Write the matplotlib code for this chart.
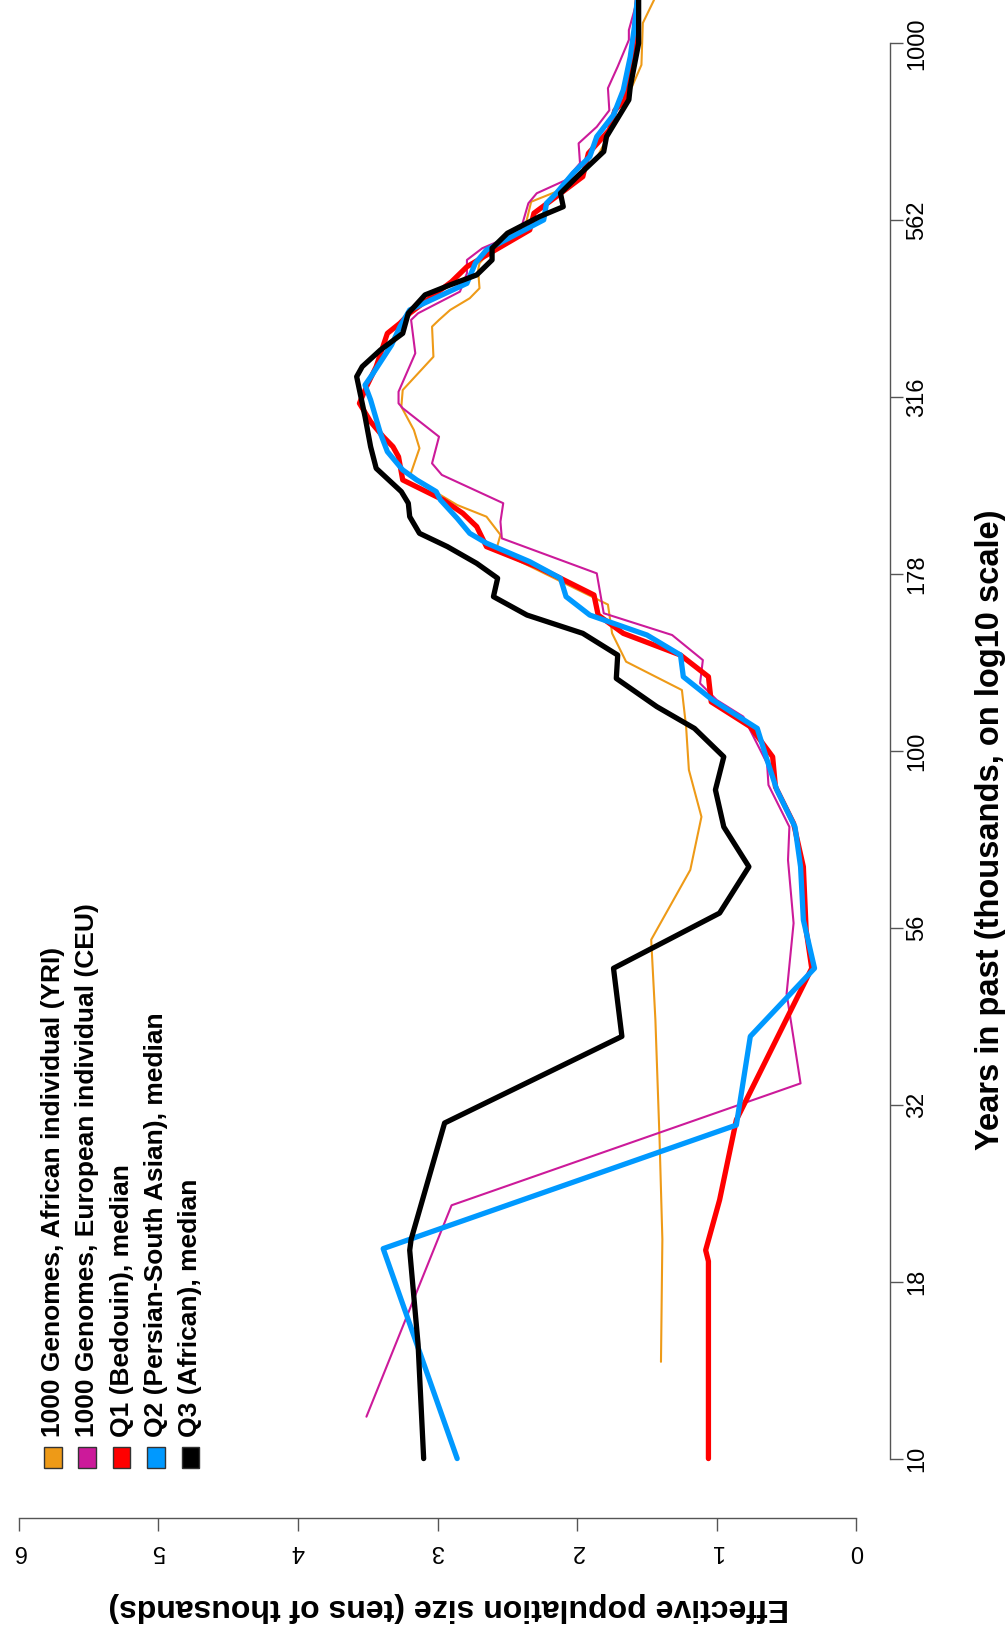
import matplotlib
matplotlib.use('Agg')
import matplotlib.pyplot as plt
from matplotlib.patches import Rectangle
from matplotlib.ticker import NullLocator

plt.rcParams['font.family'] = ['Liberation Sans', 'DejaVu Sans']

# years in past (thousands) and effective population size (tens of thousands)
yri_years = [13.7, 20.4, 28.2, 41.7, 54.1, 67.9, 80.7, 94.0, 108.2, 121.9,
             133.7, 146.6, 161, 192.4, 202.0, 214.3, 222.6, 244.1, 267.7, 284.1,
             306.5, 323.6, 360.6, 397.7, 406.5, 419.9, 436.2, 450.6, 478.2, 488.8,
             527.5, 553.8, 597.1, 617, 652, 689, 805, 932, 1068, 1151]
yri_ne = [1.40, 1.39, 1.41, 1.44, 1.47, 1.19, 1.11, 1.20, 1.22, 1.25,
          1.65, 1.75, 1.78, 2.58, 2.55, 2.65, 2.86, 3.20, 3.13, 3.17,
          3.26, 3.25, 3.03, 3.04, 2.99, 2.91, 2.77, 2.70, 2.71, 2.70,
          2.55, 2.37, 2.33, 2.15, 1.98, 1.86, 1.68, 1.54, 1.53, 1.45]

ceu_years = [11.46, 22.8, 33.9, 45.4, 57.1, 70.1, 78.1, 89.5, 96.0, 111.8,
             118.0, 124.6, 134.4, 145.8, 156.5, 178.2, 199.7, 210.8, 223.9, 245.5,
             254.9, 278.0, 305.0, 309.9, 321.8, 364.7, 406.5, 415.4, 445.7, 473.2,
             494.1, 513.3, 541, 594.1, 613.8, 641, 677, 722, 762, 804,
             864, 927, 1011, 1044, 1151]
ceu_ne = [3.51, 2.90, 0.40, 0.50, 0.45, 0.49, 0.48, 0.63, 0.64, 0.81,
          1.00, 1.12, 1.10, 1.32, 1.81, 1.86, 2.54, 2.55, 2.53, 2.97,
          3.04, 2.99, 3.25, 3.28, 3.28, 3.16, 3.19, 3.14, 2.84, 2.79,
          2.79, 2.68, 2.41, 2.35, 2.29, 2.08, 1.98, 1.99, 1.86, 1.77,
          1.78, 1.71, 1.63, 1.63, 1.57]

q1_years = [10.0, 19.0, 19.7, 23.2, 30.1, 49.3, 55.8, 68.6, 79.0, 89.0,
            98.1, 108.2, 117.3, 127.3, 136.6, 146.6, 155.6, 166.1, 175.4, 182.1,
            194.4, 207.5, 216.7, 226.3, 241.5, 260.4, 269.1, 278.0, 291.9, 309.9,
            327.1, 349.2, 389.1, 402.1, 415.4, 460.3, 483.3, 499.3, 544.8, 575.2,
            607.2, 648.0, 699, 754, 804, 831, 907, 978, 1151]
q1_ne = [1.06, 1.06, 1.08, 0.98, 0.86, 0.32, 0.36, 0.38, 0.45, 0.58,
         0.60, 0.76, 1.04, 1.06, 1.26, 1.67, 1.85, 1.88, 2.12, 2.29,
         2.65, 2.72, 2.82, 2.96, 3.25, 3.28, 3.32, 3.39, 3.48, 3.56,
         3.51, 3.44, 3.36, 3.27, 3.20, 2.90, 2.79, 2.67, 2.34, 2.31,
         2.15, 1.96, 1.92, 1.77, 1.73, 1.66, 1.62, 1.60, 1.57]

q2_years = [10.0, 19.8, 29.6, 39.5, 49.3, 57.7, 68.6, 78.1, 88.1, 97.1,
            107.6, 118.0, 127.3, 136.6, 145.8, 155.6, 165.2, 175.4, 185.1, 196.6,
            203.0, 213.2, 226.3, 232.5, 241.5, 249.5, 264.8, 281.1, 313.3, 328.9,
            339.8, 374.7, 397.7, 419.9, 457.9, 488.8, 510.5, 562.9, 594.1, 613.8,
            655.2, 691.5, 738, 792, 859, 957, 1056, 1151]
q2_ne = [2.86, 3.39, 0.86, 0.76, 0.30, 0.38, 0.40, 0.44, 0.57, 0.64,
         0.71, 1.03, 1.24, 1.26, 1.50, 1.91, 2.08, 2.12, 2.34, 2.65,
         2.77, 2.86, 2.98, 3.01, 3.15, 3.25, 3.36, 3.41, 3.48, 3.52,
         3.47, 3.33, 3.27, 3.20, 2.79, 2.73, 2.65, 2.24, 2.22, 2.15,
         2.03, 1.91, 1.86, 1.74, 1.67, 1.62, 1.59, 1.57]

q3_years = [10.0, 14.5, 19.7, 20.4, 29.8, 39.5, 49.3, 59.0, 68.6, 78.1,
            88.1, 98.1, 107.6, 115.5, 126.6, 136.6, 146.6, 155.6, 165.2, 175.4,
            184.1, 194.4, 203.0, 214.3, 223.9, 232.5, 250.8, 269.1, 296.7, 338.0,
            349.2, 368.6, 389.1, 415.4, 441.0, 455.6, 470.6, 494.1, 513.3, 539.0,
            568.9, 587.6, 613.8, 648.0, 703, 738, 832, 868, 1000, 1151]
q3_ne = [3.10, 3.14, 3.20, 3.19, 2.95, 1.68, 1.74, 0.98, 0.77, 0.95,
         1.01, 0.95, 1.16, 1.43, 1.72, 1.71, 1.96, 2.36, 2.60, 2.57,
         2.72, 2.93, 3.13, 3.20, 3.21, 3.26, 3.44, 3.48, 3.52, 3.58,
         3.54, 3.41, 3.25, 3.21, 3.09, 2.91, 2.72, 2.61, 2.61, 2.50,
         2.27, 2.10, 2.12, 2.00, 1.81, 1.79, 1.63, 1.62, 1.56, 1.56]

year_ticks = [10, 17.78, 31.62, 56.23, 100, 177.83, 316.23, 562.34, 1000]
year_tick_labels = ['10', '18', '32', '56', '100', '178', '316', '562', '1000']
ne_ticks = [0, 1, 2, 3, 4, 5, 6]
ne_tick_labels = ['0', '1', '2', '3', '4', '5', '6']

labels = ['1000 Genomes, African individual (YRI)',
          '1000 Genomes, European individual (CEU)',
          'Q1 (Bedouin), median',
          'Q2 (Persian-South Asian), median',
          'Q3 (African), median']
colors = ['#EE9A17', '#CC1A9A', '#FF0000', '#0099FF', '#000000']
widths = [1.5, 1.5, 3.8, 3.8, 3.8]
series = [(yri_ne, yri_years), (ceu_ne, ceu_years), (q1_ne, q1_years),
          (q2_ne, q2_years), (q3_ne, q3_years)]

W, H = 1008, 1628
fig = plt.figure(figsize=(W / 100, H / 100), dpi=100)
ax = fig.add_axes([0, 0, 1, 1])

# the plot is drawn turned on its side: population runs right-to-left, time runs upward
for (ne, yrs), c, lw in zip(series, colors, widths):
    ax.plot(ne, yrs, color=c, lw=lw, solid_joinstyle='round', solid_capstyle='round')

ax.set_yscale('log')
ax.set_xlim(6.135, -1.086)
ax.set_ylim(5.762, 1151.2)

ax.spines['left'].set_visible(False)
ax.spines['top'].set_visible(False)
ax.spines['right'].set_position(('data', -0.2407))
ax.spines['right'].set_bounds(10, 1000)
ax.spines['bottom'].set_position(('data', 8.25))
ax.spines['bottom'].set_bounds(0, 6)
for s in ['right', 'bottom']:
    ax.spines[s].set_color('#555555')
    ax.spines[s].set_linewidth(1)

ax.yaxis.tick_right()
ax.set_yticks(year_ticks, labels=year_tick_labels)
ax.yaxis.set_minor_locator(NullLocator())
ax.set_xticks(ne_ticks, labels=ne_tick_labels)
ax.tick_params(axis='y', direction='out', length=9, width=1, color='#555555',
               labelsize=17, pad=2.5, labelrotation=90)
ax.tick_params(axis='x', direction='out', length=9, width=1, color='#555555',
               labelsize=17, pad=7, labelrotation=180)
for t in ax.get_yticklabels():
    t.set_va('center')
    t.set_ha('left')


def fx(x):
    return x / W


def fy(y):
    return 1 - y / H


fig.text(fx(991), fy(830), 'Years in past (thousands, on log10 scale)',
         rotation=90, ha='center', va='center', fontsize=23.5, fontweight='bold')
fig.text(fx(449), fy(1607), 'Effective population size (tens of thousands)',
         rotation=180, ha='center', va='center', fontsize=23, fontweight='bold')

# legend, also turned
leg_x = [53, 87, 121.7, 156, 190.3]
for xc, lab, c in zip(leg_x, labels, colors):
    fig.add_artist(Rectangle((fx(xc - 8.7), fy(1468)), 17.4 / W, 21 / H,
                             transform=fig.transFigure, facecolor=c,
                             edgecolor='#333333', lw=1))
    fig.text(fx(xc), fy(1437), lab, rotation=90, ha='center', va='bottom',
             fontsize=19, fontweight='bold')

fig.savefig('out.png', dpi=100)
